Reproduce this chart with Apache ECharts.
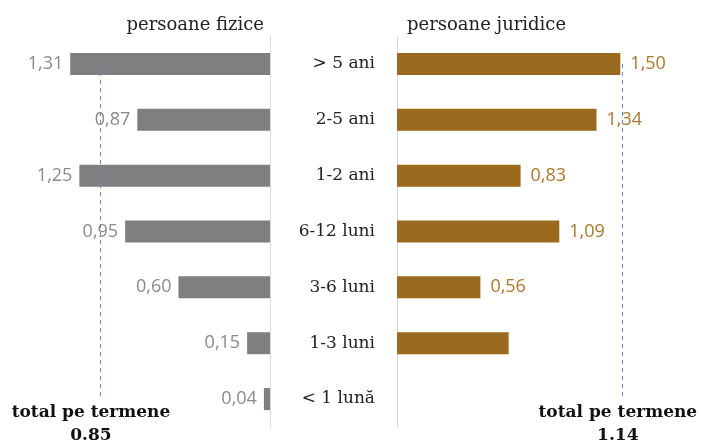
<!DOCTYPE html>
<html>
<head>
<meta charset="utf-8">
<script src="https://cdn.jsdelivr.net/npm/echarts@6/dist/echarts.min.js"></script>
<style>
  html, body { margin: 0; padding: 0; background: #fff; }
  #chart { width: 702px; height: 446px; }
</style>
</head>
<body>
<div id="chart"></div>
<script>
var categories = ['> 5 ani', '2-5 ani', '1-2 ani', '6-12 luni', '3-6 luni', '1-3 luni', '< 1 lună'];
var fizice = [1.31, 0.87, 1.25, 0.95, 0.60, 0.15, 0.04];
var juridice = [1.50, 1.34, 0.83, 1.09, 0.56, 0.75, 0];
var totalFizice = '0.85';
var totalJuridice = '1.14';
// where the dashed "total" lines sit in the picture
var lineFizice = 1.115;
var lineJuridice = 1.51;

var serif = 'DejaVu Serif';
var sans = 'Open Sans';

function fmt(p) {
    return p.value.toFixed(2).replace('.', ',');
}

var option = {
    animation: false,
    backgroundColor: '#fff',
    title: [
        {text: 'persoane fizice', right: 433, top: 11,
            textStyle: {fontFamily: serif, fontWeight: 'normal', fontSize: 18, color: '#222'}},
        {text: 'persoane juridice', left: 402, top: 11,
            textStyle: {fontFamily: serif, fontWeight: 'normal', fontSize: 18, color: '#222'}}
    ],
    grid: [
        {left: 26, width: 244, top: 36, height: 391},
        {left: 397, width: 268, top: 36, height: 391}
    ],
    xAxis: [
        {gridIndex: 0, type: 'value', min: 0, max: 1.6, inverse: true, show: false},
        {gridIndex: 1, type: 'value', min: 0, max: 1.8, show: false}
    ],
    yAxis: [
        {gridIndex: 0, type: 'category', data: categories, inverse: true, position: 'right',
            axisLine: {lineStyle: {color: '#d9d9d9'}}, axisTick: {show: false}, axisLabel: {show: false}},
        {gridIndex: 1, type: 'category', data: categories, inverse: true, position: 'left',
            axisLine: {lineStyle: {color: '#d9d9d9'}}, axisTick: {show: false},
            axisLabel: {margin: 22, fontFamily: serif, fontSize: 17, color: '#222'}}
    ],
    series: [
        {
            type: 'bar', xAxisIndex: 0, yAxisIndex: 0, data: fizice, barWidth: 22,
            itemStyle: {color: '#7f7f7f'},
            label: {show: true, position: 'left', distance: 7, formatter: fmt,
                fontFamily: sans, fontSize: 18, color: '#8a8a8a'},
            markLine: {
                silent: true, symbol: 'none',
                lineStyle: {type: [4, 4], color: '#5b8ec8', width: 1},
                label: {position: 'end', distance: 2, formatter: 'total pe termene\n' + totalFizice,
                    fontFamily: serif, fontWeight: 'bold', fontSize: 17, lineHeight: 23, color: '#111',
                    offset: [-9, 0]},
                data: [[{coord: [lineFizice, categories[0]]}, {coord: [lineFizice, categories[6]]}]]
            }
        },
        {
            type: 'bar', xAxisIndex: 1, yAxisIndex: 1, barWidth: 22,
            data: juridice.map(function (v, i) {
                return i >= 5 ? {value: v, label: {show: false}} : v;
            }),
            itemStyle: {color: '#9a6a1e'},
            label: {show: true, position: 'right', distance: 10, formatter: fmt,
                fontFamily: sans, fontSize: 18, color: '#a8782c'},
            markLine: {
                silent: true, symbol: 'none',
                lineStyle: {type: [4, 4], color: '#5b8ec8', width: 1},
                label: {position: 'end', distance: 2, formatter: 'total pe termene\n' + totalJuridice,
                    fontFamily: serif, fontWeight: 'bold', fontSize: 17, lineHeight: 23, color: '#111',
                    offset: [-4, 0]},
                data: [[{coord: [lineJuridice, categories[0]]}, {coord: [lineJuridice, categories[6]]}]]
            }
        }
    ]
};
echarts.init(document.getElementById('chart')).setOption(option);
</script>
</body>
</html>
